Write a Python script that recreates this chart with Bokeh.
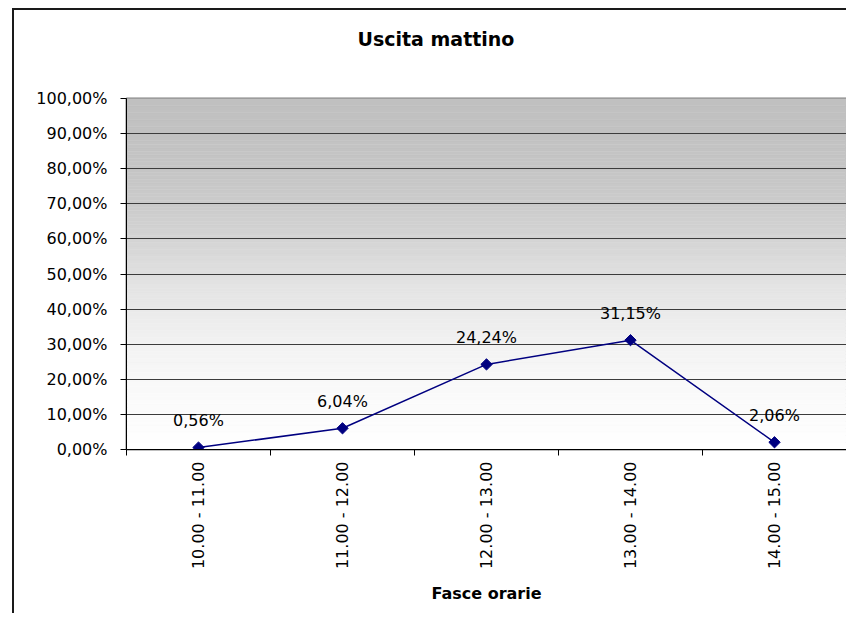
import math
import numpy as np
from bokeh.plotting import figure
from bokeh.models import Range1d, FixedTicker, LinearAxis, Title
from bokeh.embed import file_html
from bokeh.resources import INLINE

# ---- data ----
categories = ["10.00 - 11.00", "11.00 - 12.00", "12.00 - 13.00", "13.00 - 14.00", "14.00 - 15.00"]
values = [0.56, 6.04, 24.24, 31.15, 2.06]
value_labels = ["0,56%", "6,04%", "24,24%", "31,15%", "2,06%"]
y_ticks = [0, 10, 20, 30, 40, 50, 60, 70, 80, 90, 100]
y_tick_labels = ["0,00%", "10,00%", "20,00%", "30,00%", "40,00%", "50,00%",
                 "60,00%", "70,00%", "80,00%", "90,00%", "100,00%"]
title_text = "Uscita mattino"
x_title = "Fasce orarie"

FONT = "DejaVu Sans"
NAVY = "#000080"

n = len(categories)
xs = np.arange(n) + 0.5

p = figure(width=834, height=605, output_backend="svg", toolbar_location=None,
           x_range=Range1d(0, n), y_range=Range1d(0, 100),
           min_border_left=112, min_border_right=2, min_border_top=88, min_border_bottom=166)
p.margin = (8, 0, 0, 12)
p.styles = {"border-left": "2px solid #1a1a1a", "border-top": "2px solid #1a1a1a"}

# spacer between title and plot area (invisible axis, closest to the frame)
spacer = LinearAxis(ticker=FixedTicker(ticks=[n / 2]), axis_line_color=None,
                    major_tick_line_color=None, minor_tick_line_color=None,
                    major_tick_out=38, major_tick_in=0, minor_tick_out=0, minor_tick_in=0,
                    major_label_standoff=0, major_label_text_font_size="1px",
                    major_label_text_alpha=0, major_label_overrides={n / 2: ""})
p.add_layout(spacer, "above")

# title (outside the spacer)
t = Title(text=title_text, align="left", offset=231, standoff=21, text_font=FONT,
          text_font_size="19px", text_font_style="bold", text_color="black")
p.add_layout(t, "above")

# gradient background (decoration)
edges = np.linspace(0, 100, 101)
stop_pos = [0, 10, 20, 30, 40, 50, 60, 70, 80, 90, 100]
stop_gray = [255, 252, 248, 242, 234, 224, 212, 203, 197, 194, 192]
mids = (edges[:-1] + edges[1:]) / 2
grays = np.interp(mids, stop_pos, stop_gray).round().astype(int)
cols = ["#%02x%02x%02x" % (g, g, g) for g in grays]
bg = p.quad(left=0, right=n, bottom=edges[:-1], top=edges[1:], fill_color=cols, line_color=cols, line_width=0.5)
bg.level = "image"

p.background_fill_color = "white"
p.border_fill_color = "white"
p.outline_line_color = "#808080"
p.outline_line_width = 2

# grid
p.xgrid.visible = False
p.ygrid.ticker = FixedTicker(ticks=y_ticks[1:-1])
p.ygrid.grid_line_color = "#3c3c3c"
p.ygrid.grid_line_width = 1

# data
p.line(xs, values, line_color=NAVY, line_width=1.5)
p.scatter(xs, values, marker="square", angle=math.pi / 4, size=8, fill_color=NAVY, line_color=NAVY)
p.text(xs, values, text=value_labels, text_align="center", text_baseline="middle",
       y_offset=-27, text_font={"value": FONT}, text_font_size="16px", text_color="black")

# x axis
xa = p.below[0]
xa.ticker = FixedTicker(ticks=list(xs), minor_ticks=list(range(n + 1)))
xa.major_label_overrides = {float(x): c for x, c in zip(xs, categories)}
xa.major_label_orientation = math.pi / 2
xa.major_tick_out = 0
xa.major_tick_in = 0
xa.minor_tick_out = 6
xa.minor_tick_in = 0
xa.minor_tick_line_color = "black"
xa.axis_line_color = "black"
xa.major_label_standoff = 6
xa.major_label_text_font = FONT
xa.major_label_text_font_size = "16px"
xa.major_label_text_color = "black"
xa.axis_label = x_title
xa.axis_label_text_font = FONT
xa.axis_label_text_font_size = "16px"
xa.axis_label_text_font_style = "bold"
xa.axis_label_text_color = "black"
xa.axis_label_standoff = 12

# y axis
ya = p.left[0]
ya.ticker = FixedTicker(ticks=y_ticks)
ya.major_label_overrides = {v: s for v, s in zip(y_ticks, y_tick_labels)}
ya.major_tick_out = 6
ya.major_tick_in = 0
ya.minor_tick_out = 0
ya.minor_tick_in = 0
ya.axis_line_color = "black"
ya.major_tick_line_color = "black"
ya.major_label_standoff = 13
ya.major_label_text_font = FONT
ya.major_label_text_font_size = "16px"
ya.major_label_text_color = "black"

open("out.html", "w").write(file_html(p, INLINE))
